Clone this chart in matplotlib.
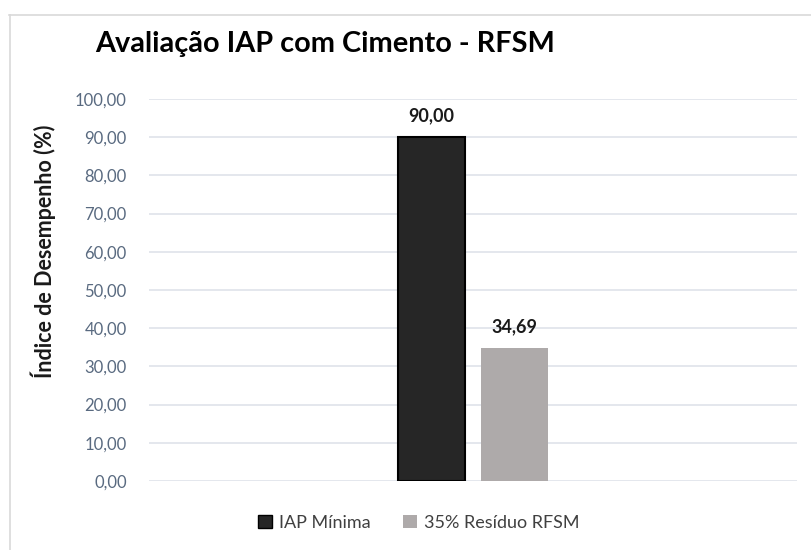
import matplotlib
matplotlib.use("Agg")
import matplotlib.pyplot as plt
from matplotlib.patches import Patch
from matplotlib.lines import Line2D

# ============================================================
# Data
# ============================================================

series_names = ["IAP Mínima", "35% Resíduo RFSM"]
values = [90.00, 34.69]
bar_colors = ["#262626", "#aeaaaa"]
y_ticks = [0, 10, 20, 30, 40, 50, 60, 70, 80, 90, 100]

plt.rcParams["font.family"] = ["Lato", "DejaVu Sans"]

# ============================================================
# Figure
# ============================================================

fig = plt.figure(figsize=(8.11, 5.5), dpi=100)
ax = fig.add_axes([149/811, 1-481/550, 648/811, 382/550])

# chart border (top and left edges)
fig.add_artist(Line2D([9/811, 1.0], [1-15/550, 1-15/550], color="#d9d9d9", lw=1.2, transform=fig.transFigure))
fig.add_artist(Line2D([10/811, 10/811], [0, 1-15/550], color="#d9d9d9", lw=1.2, transform=fig.transFigure))

offsets = [-0.064, 0.064]
width = 0.103

for i, (name, val) in enumerate(zip(series_names, values)):
    edge = "black" if i == 0 else "none"
    ax.bar(offsets[i], val, width=width, color=bar_colors[i],
           edgecolor=edge, linewidth=1.5, zorder=3)
    ax.text(offsets[i], val + 3.5, f"{val:.2f}".replace(".", ","),
            ha="center", va="bottom", fontsize=13, fontweight="bold",
            color="#1a1a1a")

ax.set_xlim(-0.5, 0.5)
ax.set_ylim(0, 100)
ax.set_yticks(y_ticks)
ax.set_yticklabels([f"{t:.2f}".replace(".", ",") for t in y_ticks],
                   fontsize=12, color="#596a80")
ax.set_xticks([])
ax.tick_params(axis="y", length=0, pad=16)
ax.grid(axis="y", color="#dfe3ea", linewidth=1.2, zorder=0)
for s in ax.spines.values():
    s.set_visible(False)

ax.set_ylabel("Índice de Desempenho (%)", fontsize=15.5, fontweight="bold",
              color="#1a1a1a")
ax.yaxis.set_label_coords(-0.143, 0.6)

fig.text(95/811, 1-44/550, "Avaliação IAP com Cimento - RFSM",
         fontsize=20.8, color="black", fontweight="bold",
         ha="left", va="center")

handles = [Patch(facecolor=bar_colors[0], edgecolor="black", linewidth=1),
           Patch(facecolor=bar_colors[1], edgecolor="none")]
fig.legend(handles, series_names, loc="center", bbox_to_anchor=(419/811, 1-523/550),
           ncol=2, frameon=False, fontsize=13, handlelength=0.75, handleheight=0.75,
           handletextpad=0.4, columnspacing=1.8, labelcolor="#404040")

plt.savefig("out.png", dpi=100)
